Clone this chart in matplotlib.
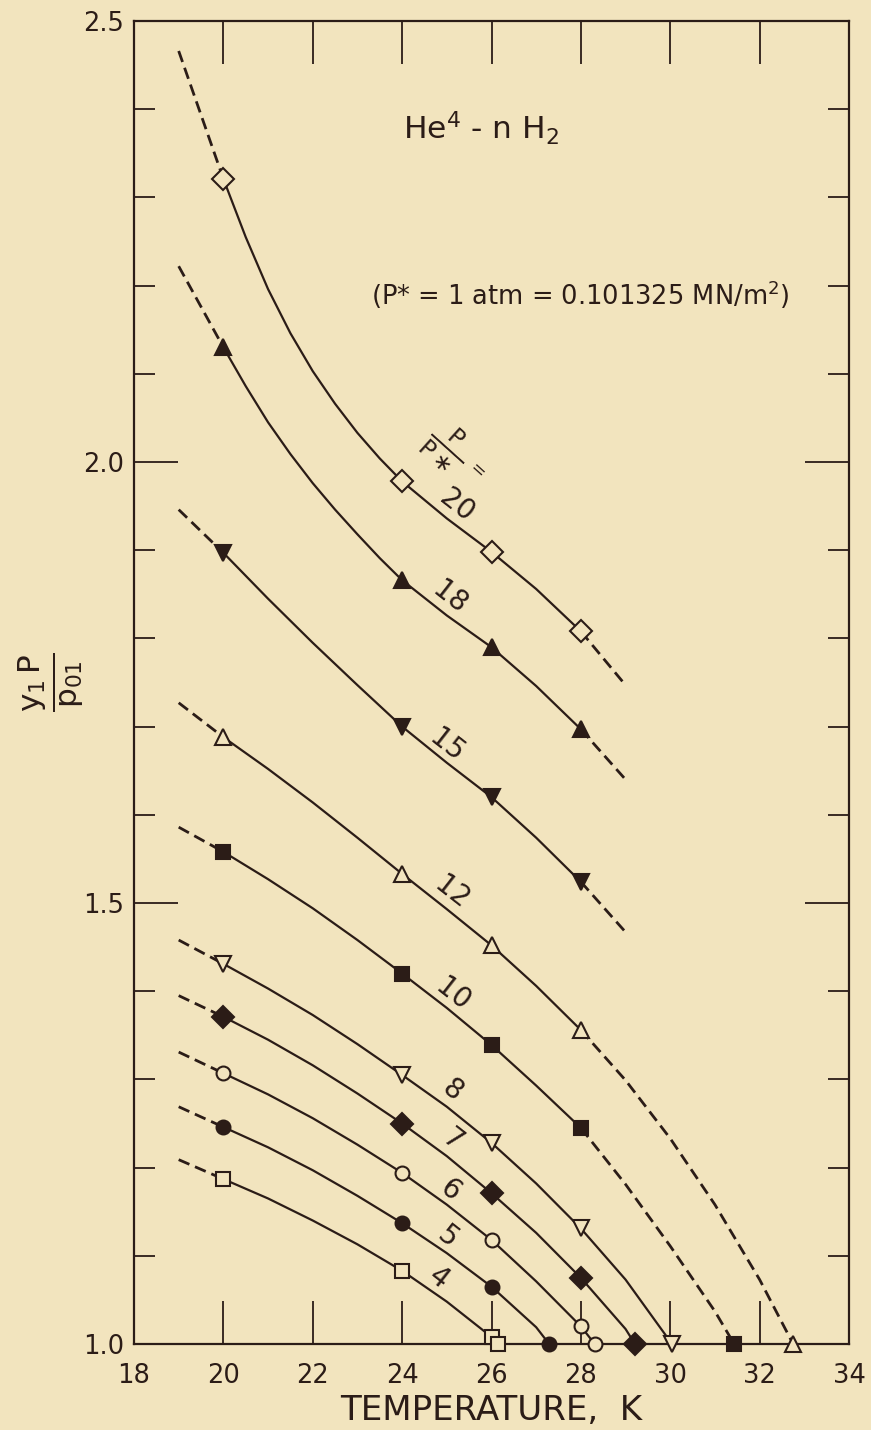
import matplotlib
matplotlib.use('Agg')
import matplotlib.pyplot as plt
from matplotlib.ticker import MultipleLocator

bg = '#f2e4be'
ink = '#2b1c17'
plt.rcParams['font.family'] = ['DejaVu Sans']
plt.rcParams['mathtext.fontset'] = 'dejavusans'

# P/P* of each isobar
ratios = [20, 18, 15, 12, 10, 8, 7, 6, 5, 4]

# measured points (temperature K, y1P/p01)
pts_t = [
    [20, 24, 26, 28],
    [20, 24, 26, 28],
    [20, 24, 26, 28],
    [20, 24, 26, 28, 32.75],
    [20, 24, 26, 28, 31.43],
    [20, 24, 26, 28, 30.04],
    [20, 24, 26, 28, 29.21],
    [20, 24, 26, 28, 28.31],
    [20, 24, 26, 27.29],
    [20, 24, 26, 26.15],
]
pts_y = [
    [2.321, 1.978, 1.898, 1.808],
    [2.130, 1.866, 1.790, 1.697],
    [1.897, 1.700, 1.620, 1.524],
    [1.688, 1.533, 1.452, 1.356, 1.000],
    [1.558, 1.420, 1.339, 1.245, 1.000],
    [1.431, 1.305, 1.228, 1.131, 1.000],
    [1.371, 1.250, 1.171, 1.075, 1.000],
    [1.307, 1.194, 1.118, 1.020, 1.000],
    [1.246, 1.137, 1.065, 1.000],
    [1.187, 1.083, 1.008, 1.000],
]

# drawn curves
curve_t = [
    [19, 20, 20.5, 21, 21.5, 22, 22.5, 23, 23.5, 24, 25, 26, 27, 28, 29],
    [19, 20, 20.5, 21, 21.5, 22, 22.5, 23, 23.5, 24, 25, 26, 27, 28, 29],
    [19, 20, 21, 22, 23, 24, 25, 26, 27, 28, 29],
    [19, 20, 21, 22, 23, 24, 25, 26, 27, 28, 29, 30, 31, 32, 32.75],
    [19, 20, 21, 22, 23, 24, 25, 26, 27, 28, 29, 30, 31, 31.43],
    [19, 20, 21, 22, 23, 24, 25, 26, 27, 28, 29, 30.04],
    [19, 20, 21, 22, 23, 24, 25, 26, 27, 28, 29, 29.21],
    [19, 20, 21, 22, 23, 24, 25, 26, 27, 28, 28.31],
    [19, 20, 21, 22, 23, 24, 25, 26, 27, 27.29],
    [19, 20, 21, 22, 23, 24, 25, 26],
]
curve_y = [
    [2.466, 2.321, 2.255, 2.196, 2.146, 2.103, 2.066, 2.033, 2.004, 1.978,
     1.936, 1.898, 1.856, 1.808, 1.747],
    [2.222, 2.130, 2.086, 2.045, 2.009, 1.976, 1.946, 1.918, 1.891, 1.866,
     1.826, 1.790, 1.746, 1.697, 1.640],
    [1.946, 1.897, 1.845, 1.795, 1.747, 1.700, 1.659, 1.620, 1.574, 1.524, 1.467],
    [1.727, 1.688, 1.652, 1.614, 1.574, 1.533, 1.493, 1.452, 1.406, 1.356, 1.299,
     1.233, 1.158, 1.073, 1.000],
    [1.586, 1.558, 1.527, 1.494, 1.458, 1.420, 1.381, 1.339, 1.293, 1.245, 1.181,
     1.111, 1.037, 1.000],
    [1.458, 1.431, 1.403, 1.373, 1.340, 1.305, 1.269, 1.228, 1.182, 1.131, 1.073, 1.000],
    [1.395, 1.371, 1.345, 1.316, 1.284, 1.250, 1.213, 1.171, 1.126, 1.075, 1.017, 1.000],
    [1.331, 1.307, 1.283, 1.256, 1.226, 1.194, 1.158, 1.118, 1.071, 1.020, 1.000],
    [1.269, 1.246, 1.223, 1.197, 1.168, 1.137, 1.103, 1.065, 1.019, 1.000],
    [1.209, 1.187, 1.165, 1.140, 1.113, 1.083, 1.048, 1.008],
]
# curves that continue dashed beyond 28 K
dashed_end = [20, 18, 15, 12, 10]

markers = ['D', '^', 'v', '^', 's', 'v', 'D', 'o', 'o', 's']
filled = [False, True, True, False, True, False, True, False, True, False]
msizes = [11, 11, 11, 11, 10.5, 11, 11, 10, 10, 10.5]

# label positions along the curves
lab_t = [25.23, 25.07, 25.0, 25.12, 25.14, 25.12, 25.14, 25.07, 25.03, 24.82]
lab_y = [1.951, 1.846, 1.679, 1.512, 1.396, 1.288, 1.231, 1.175, 1.121, 1.075]

fig = plt.figure(figsize=(8.71, 14.30), dpi=100, facecolor=bg)
ax = fig.add_axes([134/871, 1 - 1344/1430, 715/871, 1323/1430])
ax.set_facecolor(bg)

dash = (0, (4.2, 2.2))
for i, r in enumerate(ratios):
    t = curve_t[i]
    y = curve_y[i]
    # dashed lead-in below 20 K
    ax.plot(t[:2], y[:2], color=ink, lw=2.0, ls=dash, dash_capstyle='butt')
    if r in dashed_end:
        k = t.index(28)
        ax.plot(t[1:k + 1], y[1:k + 1], color=ink, lw=1.6)
        ax.plot(t[k:], y[k:], color=ink, lw=2.0, ls=dash, dash_capstyle='butt')
    else:
        ax.plot(t[1:], y[1:], color=ink, lw=1.6)
    ax.plot(pts_t[i], pts_y[i], ls='none', marker=markers[i], ms=msizes[i],
            mfc=ink if filled[i] else bg, mec=ink, mew=1.5, clip_on=False, zorder=5)
    ax.text(lab_t[i], lab_y[i], str(r), rotation=-38, fontsize=20, color=ink,
            ha='center', va='center')

ax.text(25.0, 2.016, r'$\frac{\mathrm{P}}{\mathrm{P}\ast}$', rotation=-42,
        fontsize=24, color=ink, ha='center', va='center')
ax.text(25.67, 1.991, '=', rotation=-42, fontsize=13, color=ink,
        ha='center', va='center')

ax.set_xlim(18, 34)
ax.set_ylim(1.0, 2.5)
ax.xaxis.set_major_locator(MultipleLocator(2))
ax.yaxis.set_major_locator(MultipleLocator(0.5))
ax.yaxis.set_minor_locator(MultipleLocator(0.1))
ax.tick_params(axis='x', which='major', direction='in', length=31, width=1.3,
               top=True, bottom=True, pad=14, labelsize=18.5, colors=ink)
ax.tick_params(axis='y', which='major', direction='in', length=32, width=1.3,
               left=True, right=True, pad=7, labelsize=18.5, colors=ink)
ax.tick_params(axis='y', which='minor', direction='in', length=15, width=1.3,
               left=True, right=True, colors=ink)
for s in ax.spines.values():
    s.set_linewidth(1.6)
    s.set_color(ink)

fig.text(491/871, 1 - 1411/1430, 'TEMPERATURE,  K', fontsize=24.5, color=ink,
         ha='center', va='center')
fig.text(51/871, 1 - 682/1430, r'$\frac{\mathrm{y_1\,P}}{\mathrm{p_{01}}}$',
         rotation=90, fontsize=32, color=ink, ha='center', va='center')
fig.text(481/871, 1 - 128/1430, r'He$^4$ - n H$_2$', fontsize=22.5, color=ink,
         ha='center', va='center')
fig.text(580/871, 1 - 295/1430, r'(P* = 1 atm = 0.101325 MN/m$^2$)', fontsize=18.5,
         color=ink, ha='center', va='center')

fig.savefig('out.png', dpi=100, facecolor=bg)
